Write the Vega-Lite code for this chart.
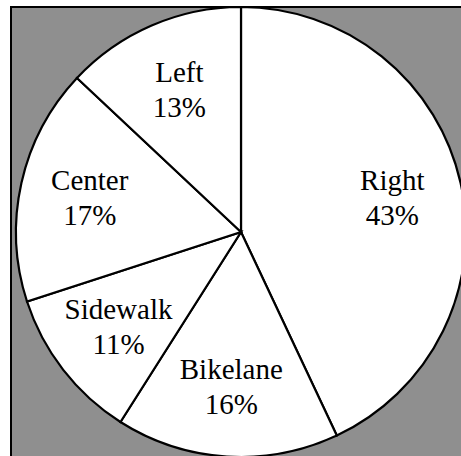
{
  "$schema": "https://vega.github.io/schema/vega-lite/v6.json",
  "width": 460,
  "height": 450,
  "autosize": "none",
  "padding": {"left": 11, "top": 7, "right": 0, "bottom": 0},
  "background": "white",
  "view": {"fill": "#8f8f8f", "stroke": "black", "strokeWidth": 2},
  "data": {
    "values": [
      {"category": "Right", "percent": 43, "order": 1, "label": "Right\n43%"},
      {"category": "Bikelane", "percent": 16, "order": 2, "label": "Bikelane\n16%"},
      {"category": "Sidewalk", "percent": 11, "order": 3, "label": "Sidewalk\n11%"},
      {"category": "Center", "percent": 17, "order": 4, "label": "Center\n17%"},
      {"category": "Left", "percent": 13, "order": 5, "label": "Left\n13%"}
    ]
  },
  "encoding": {
    "theta": {"field": "percent", "type": "quantitative", "stack": true},
    "order": {"field": "order", "type": "quantitative"}
  },
  "layer": [
    {
      "mark": {"type": "arc", "fill": "white", "stroke": "black", "strokeWidth": 2.2}
    },
    {
      "mark": {
        "type": "text",
        "radius": 155,
        "dy": -17,
        "font": "Liberation Serif",
        "fontSize": 29,
        "lineBreak": "\n",
        "lineHeight": 35,
        "align": "center",
        "baseline": "middle",
        "color": "black"
      },
      "encoding": {"text": {"field": "label"}}
    }
  ]
}
